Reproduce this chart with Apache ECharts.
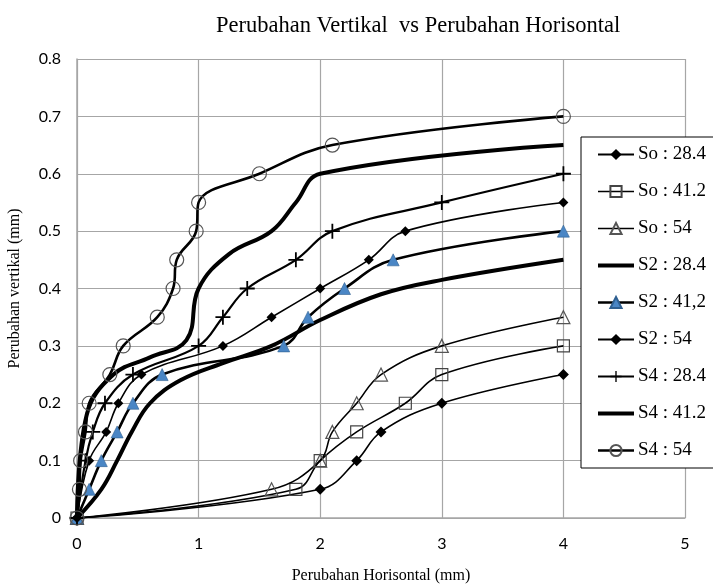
<!DOCTYPE html>
<html>
<head>
<meta charset="utf-8">
<script src="https://cdn.jsdelivr.net/npm/echarts@6/dist/echarts.min.js"></script>
<style>html,body{margin:0;padding:0;background:#fff}#c{width:713px;height:585px}</style>
</head>
<body>
<div id="c"></div>
<script>
// ---- data ----
var seriesNames = ['So : 28.4', 'So : 41.2', 'So : 54', 'S2 : 28.4', 'S2 : 41,2', 'S2 : 54', 'S4 : 28.4', 'S4 : 41.2', 'S4 : 54'];

var so284X = [0, 2, 2.3, 2.5, 3, 4];
var so284Y = [0, 0.05, 0.1, 0.15, 0.2, 0.25];

var so412X = [0, 1.8, 2, 2.3, 2.7, 3, 4];
var so412Y = [0, 0.05, 0.1, 0.15, 0.2, 0.25, 0.3];

var so54X = [0, 1.6, 2, 2.1, 2.3, 2.5, 3, 4];
var so54Y = [0, 0.05, 0.1, 0.15, 0.2, 0.25, 0.3, 0.35];

var s2284X = [0, 0.2, 0.33, 0.45, 0.6, 0.85, 1.2, 1.6, 2, 2.5, 3, 4];
var s2284Y = [0, 0.05, 0.1, 0.15, 0.2, 0.24, 0.27, 0.3, 0.345, 0.39, 0.415, 0.45];

var s2412X = [0, 0.1, 0.2, 0.33, 0.46, 0.7, 1.7, 1.9, 2.2, 2.6, 4];
var s2412Y = [0, 0.05, 0.1, 0.15, 0.2, 0.25, 0.3, 0.35, 0.4, 0.45, 0.5];

var s254X = [0, 0.1, 0.24, 0.34, 0.53, 1.2, 1.6, 2, 2.4, 2.7, 4];
var s254Y = [0, 0.1, 0.15, 0.2, 0.25, 0.3, 0.35, 0.4, 0.45, 0.5, 0.55];

var s4284X = [0, 0.07, 0.13, 0.23, 0.46, 1, 1.2, 1.4, 1.8, 2.1, 3, 4];
var s4284Y = [0, 0.1, 0.15, 0.2, 0.25, 0.3, 0.35, 0.4, 0.45, 0.5, 0.55, 0.6];

var s4412X = [0, 0.08, 0.3, 0.6, 0.9, 1, 1.25, 1.6, 1.8, 2, 4];
var s4412Y = [0, 0.18, 0.25, 0.28, 0.31, 0.4, 0.46, 0.5, 0.55, 0.6, 0.65];

var s454X = [0, 0.02, 0.03, 0.07, 0.1, 0.27, 0.38, 0.66, 0.79, 0.82, 0.98, 1.0, 1.5, 2.1, 4];
var s454Y = [0, 0.05, 0.1, 0.15, 0.2, 0.25, 0.3, 0.35, 0.4, 0.45, 0.5, 0.55, 0.6, 0.65, 0.7];

var xTicks = [0, 1, 2, 3, 4, 5];
var yTicks = [0, 0.1, 0.2, 0.3, 0.4, 0.5, 0.6, 0.7, 0.8];

// ---- build ----
function pairs(xs, ys) { return xs.map(function (x, i) { return [x, ys[i]]; }); }
var plusPath = 'path://M4.4,0h1.2v10h-1.2z M0,4.4h10v1.2h-10z';

var styles = [
  { x: so284X, y: so284Y, w: 1.6, lw: 2, sym: 'diamond', size: 11, item: { color: '#000' } },
  { x: so412X, y: so412Y, w: 1.6, lw: 1.6, sym: 'rect', size: 12, item: { color: 'rgba(255,255,255,0)', borderColor: '#444', borderWidth: 1.2 } },
  { x: so54X, y: so54Y, w: 1.6, lw: 1.6, sym: 'triangle', size: 13, item: { color: 'rgba(255,255,255,0)', borderColor: '#555', borderWidth: 1.2 } },
  { x: s2284X, y: s2284Y, w: 4, lw: 4, sym: 'none', size: 0, item: { color: '#000' } },
  { x: s2412X, y: s2412Y, w: 2.6, lw: 2.6, sym: 'triangle', size: 12, item: { color: '#4a86c5', borderColor: '#2f5f90', borderWidth: 0.6 } },
  { x: s254X, y: s254Y, w: 1.6, lw: 1.8, sym: 'diamond', size: 10, item: { color: '#000' } },
  { x: s4284X, y: s4284Y, w: 2.2, lw: 2.2, sym: plusPath, size: 15, item: { color: '#000' } },
  { x: s4412X, y: s4412Y, w: 4, lw: 4, sym: 'none', size: 0, item: { color: '#000' } },
  { x: s454X, y: s454Y, w: 2.6, lw: 2.6, sym: 'circle', size: 14, item: { color: 'rgba(255,255,255,0)', borderColor: '#555', borderWidth: 1.2 } }
];

var series = styles.map(function (s, i) {
  return {
    name: seriesNames[i],
    type: 'line',
    data: pairs(s.x, s.y),
    smooth: 0.4,
    symbol: s.sym,
    symbolSize: s.size,
    showSymbol: s.sym !== 'none',
    symbolKeepAspect: true,
    lineStyle: { color: '#000', width: s.w },
    itemStyle: s.item,
    emphasis: { disabled: true },
    z: 2 + i
  };
});

var legendData = styles.map(function (s, i) {
  var d = { name: seriesNames[i], lineStyle: { color: '#000', width: s.lw } };
  if (s.sym === 'none') {
    d.itemStyle = { color: 'rgba(0,0,0,0)', borderWidth: 0, opacity: 0 };
  }
  return d;
});

var chart = echarts.init(document.getElementById('c'), null, { renderer: 'canvas' });
chart.setOption({
  animation: false,
  backgroundColor: '#fff',
  title: {
    text: 'Perubahan Vertikal  vs Perubahan Horisontal',
    left: 211, top: 10,
    textStyle: { fontFamily: 'Liberation Serif', fontSize: 22.5, fontWeight: 'normal', color: '#000' }
  },
  grid: { left: 77, right: 28, top: 59, bottom: 67, containLabel: false, outerBoundsMode: 'none' },
  xAxis: {
    type: 'value', min: xTicks[0], max: xTicks[xTicks.length - 1], interval: 1,
    name: 'Perubahan Horisontal (mm)', nameLocation: 'middle', nameGap: 50,
    nameTextStyle: { fontFamily: 'Liberation Serif', fontSize: 16, color: '#000' },
    axisLine: { show: true, lineStyle: { color: '#a6a6a6', width: 1.5 } },
    axisTick: { show: false },
    axisLabel: { fontFamily: 'Lato', fontSize: 16, color: '#000', margin: 18 },
    splitLine: { show: true, lineStyle: { color: '#a6a6a6', width: 1.2 } }
  },
  yAxis: {
    type: 'value', min: yTicks[0], max: yTicks[yTicks.length - 1], interval: 0.1,
    name: 'Perubahan vertikal (mm)', nameLocation: 'middle', nameGap: 54,
    nameTextStyle: { fontFamily: 'Liberation Serif', fontSize: 16, color: '#000' },
    axisLine: { show: true, lineStyle: { color: '#a6a6a6', width: 1.5 } },
    axisTick: { show: false },
    axisLabel: { fontFamily: 'Lato', fontSize: 16, color: '#000', margin: 16,
      formatter: function (v) { return v === 0 ? '0' : v.toFixed(1); } },
    splitLine: { show: true, lineStyle: { color: '#a6a6a6', width: 1.2 } }
  },
  legend: {
    orient: 'vertical', left: 581, top: 137,
    data: legendData,
    backgroundColor: '#fff', borderColor: '#000', borderWidth: 1,
    padding: [8, 20, 8, 15],
    itemWidth: 36, itemHeight: 14, itemGap: 18,
    selectedMode: false,
    textStyle: { fontFamily: 'Liberation Serif', fontSize: 19, color: '#000', padding: [0, 0, 0, -1] }
  },
  series: series
});
</script>
</body>
</html>
